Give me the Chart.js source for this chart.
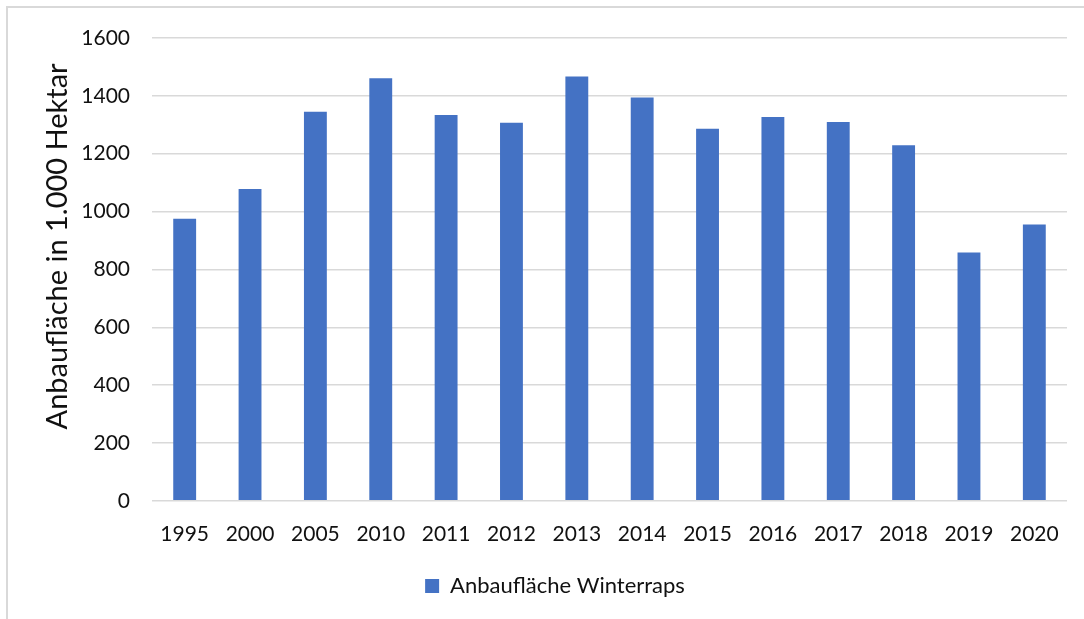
<!DOCTYPE html>
<html>
<head>
<meta charset="utf-8">
<script src="https://cdn.jsdelivr.net/npm/chart.js@4"></script>
<style>
  html, body { margin: 0; padding: 0; background: #fff; }
  #wrap { position: relative; width: 1084px; height: 619px; }
  #frame { position: absolute; left: 6px; top: 6px; right: -10px; bottom: -10px;
           border-top: 2px solid #d9d9d9; border-left: 2px solid #d9d9d9; }
  canvas { position: absolute; left: 0; top: 0; }
</style>
</head>
<body>
<div id="wrap">
  <div id="frame"></div>
  <canvas id="barChart" width="1084" height="619"></canvas>
</div>
<script>
const years = ["1995", "2000", "2005", "2010", "2011", "2012", "2013",
               "2014", "2015", "2016", "2017", "2018", "2019", "2020"];
const anbauflaeche = [975, 1078, 1345, 1461, 1334, 1307, 1467,
                      1394, 1286, 1327, 1310, 1229, 858, 955];
const seriesName = "Anbaufläche Winterraps";
const yTitle = "Anbaufläche in 1.000 Hektar";

document.addEventListener("DOMContentLoaded", () => {
  const family = "Lato, 'Liberation Sans', sans-serif";
  const font = { family: family, size: 21 };

  // y axis title, drawn a bit above the axis centre like the original
  const yTitlePlugin = {
    id: "yTitle",
    afterDraw(chart) {
      const { ctx, chartArea } = chart;
      const cy = (chartArea.top + chartArea.bottom) / 2 - 23;
      ctx.save();
      ctx.translate(58, cy);
      ctx.rotate(-Math.PI / 2);
      ctx.fillStyle = "#111";
      ctx.font = "29px " + family;
      ctx.textAlign = "center";
      ctx.textBaseline = "middle";
      ctx.fillText(yTitle, 0, 0);
      ctx.restore();
    },
  };

  const config = {
    type: "bar",
    data: {
      labels: years,
      datasets: [
        {
          label: seriesName,
          data: anbauflaeche,
          backgroundColor: "#4472c4",
          borderWidth: 0,
          barPercentage: 0.35,
          categoryPercentage: 1,
        },
      ],
    },
    options: {
      responsive: false,
      maintainAspectRatio: false,
      animation: false,
      layout: {
        padding: { left: 43, right: 17, top: 38, bottom: 12 },
      },
      scales: {
        x: {
          offset: true,
          grid: { display: false, drawTicks: false },
          border: { display: false },
          ticks: { color: "#111", font: font, padding: 21, maxRotation: 0 },
        },
        y: {
          min: 0,
          max: 1600,
          ticks: {
            stepSize: 200,
            color: "#111",
            font: font,
            padding: 22,
            callback: (v) => String(v),
          },
          grid: { color: "#d9d9d9", lineWidth: 1.5, drawTicks: false },
          border: { display: false },
          afterFit: (scale) => {
            scale.width = 109;
          },
        },
      },
      plugins: {
        legend: {
          position: "bottom",
          labels: {
            color: "#111",
            font: { family: family, size: 22 },
            boxWidth: 14,
            boxHeight: 14,
            padding: 7,
          },
        },
        tooltip: { enabled: false },
      },
    },
    plugins: [yTitlePlugin],
  };

  const ctx = document.getElementById("barChart").getContext("2d");
  new Chart(ctx, config);
});
</script>
</body>
</html>
